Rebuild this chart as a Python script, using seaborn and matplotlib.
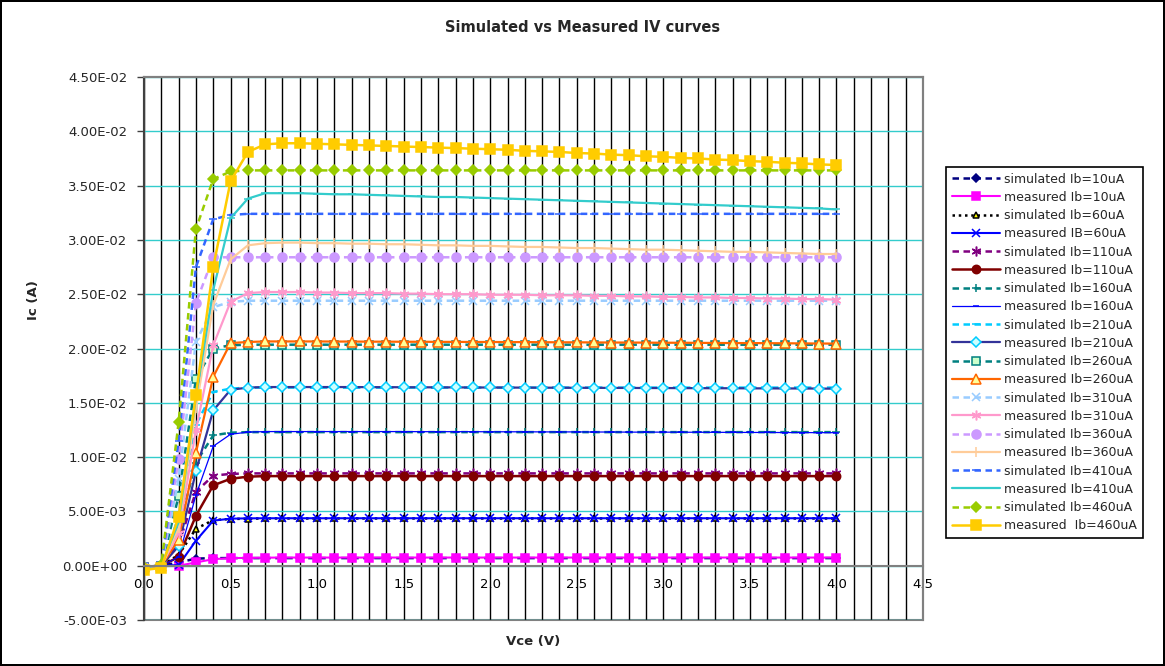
import numpy as np
import matplotlib
matplotlib.use("Agg")
import matplotlib.pyplot as plt
import seaborn as sns
from matplotlib.ticker import MultipleLocator, FuncFormatter

# ---------------- data (Ic in mA) ----------------
vce = [0.0, 0.1, 0.2, 0.3, 0.4, 0.5, 0.6, 0.7, 0.8, 0.9,
       1.0, 1.1, 1.2, 1.3, 1.4, 1.5, 1.6, 1.7, 1.8, 1.9,
       2.0, 2.1, 2.2, 2.3, 2.4, 2.5, 2.6, 2.7, 2.8, 2.9,
       3.0, 3.1, 3.2, 3.3, 3.4, 3.5, 3.6, 3.7, 3.8, 3.9, 4.0]

sim_10 = [-0.10, 0.00, 0.30, 0.65, 0.70, 0.70, 0.70, 0.70, 0.70, 0.70,
          0.70, 0.70, 0.70, 0.70, 0.70, 0.70, 0.70, 0.70, 0.70, 0.70,
          0.70, 0.70, 0.70, 0.70, 0.70, 0.70, 0.70, 0.70, 0.70, 0.70,
          0.70, 0.70, 0.70, 0.70, 0.70, 0.70, 0.70, 0.70, 0.70, 0.70, 0.70]
meas_10 = [-0.10, -0.05, 0.00, 0.30, 0.60, 0.70, 0.72, 0.74, 0.75, 0.75,
           0.75, 0.75, 0.75, 0.75, 0.75, 0.75, 0.75, 0.75, 0.75, 0.75,
           0.75, 0.75, 0.75, 0.75, 0.75, 0.75, 0.75, 0.75, 0.75, 0.75,
           0.75, 0.75, 0.75, 0.75, 0.75, 0.75, 0.75, 0.75, 0.75, 0.75, 0.75]
sim_60 = [-0.10, 0.00, 1.00, 3.40, 4.20, 4.30, 4.33, 4.35, 4.35, 4.35,
          4.35, 4.35, 4.35, 4.35, 4.35, 4.35, 4.35, 4.35, 4.35, 4.35,
          4.35, 4.35, 4.35, 4.35, 4.35, 4.35, 4.35, 4.35, 4.35, 4.35,
          4.35, 4.35, 4.35, 4.35, 4.35, 4.35, 4.35, 4.35, 4.35, 4.35, 4.35]
meas_60 = [-0.10, 0.00, 0.05, 2.30, 4.15, 4.33, 4.36, 4.37, 4.37, 4.37,
           4.37, 4.37, 4.37, 4.37, 4.37, 4.37, 4.37, 4.37, 4.37, 4.37,
           4.37, 4.37, 4.37, 4.37, 4.37, 4.37, 4.37, 4.37, 4.37, 4.37,
           4.37, 4.37, 4.37, 4.37, 4.37, 4.37, 4.37, 4.37, 4.37, 4.37, 4.37]
sim_110 = [-0.10, 0.00, 2.00, 6.80, 8.30, 8.45, 8.50, 8.50, 8.50, 8.50,
           8.50, 8.50, 8.50, 8.50, 8.50, 8.50, 8.50, 8.50, 8.50, 8.50,
           8.50, 8.50, 8.50, 8.50, 8.50, 8.50, 8.50, 8.50, 8.50, 8.50,
           8.50, 8.50, 8.50, 8.50, 8.50, 8.50, 8.50, 8.50, 8.50, 8.50, 8.50]
meas_110 = [-0.10, 0.00, 0.80, 4.60, 7.40, 8.00, 8.20, 8.25, 8.25, 8.25,
            8.25, 8.25, 8.25, 8.25, 8.25, 8.25, 8.25, 8.25, 8.25, 8.25,
            8.25, 8.25, 8.25, 8.25, 8.25, 8.25, 8.25, 8.25, 8.25, 8.25,
            8.25, 8.25, 8.25, 8.25, 8.25, 8.25, 8.25, 8.25, 8.25, 8.25, 8.25]
sim_160 = [-0.10, 0.00, 3.50, 9.50, 12.00, 12.25, 12.30, 12.30, 12.30, 12.30,
           12.30, 12.30, 12.30, 12.30, 12.30, 12.30, 12.30, 12.30, 12.30, 12.30,
           12.30, 12.30, 12.30, 12.30, 12.30, 12.30, 12.30, 12.30, 12.30, 12.30,
           12.30, 12.30, 12.30, 12.30, 12.30, 12.30, 12.30, 12.30, 12.30, 12.30, 12.30]
meas_160 = [-0.10, 0.00, 0.80, 6.50, 11.00, 12.10, 12.30, 12.35, 12.35, 12.35,
            12.35, 12.35, 12.35, 12.35, 12.35, 12.35, 12.34, 12.34, 12.34, 12.34,
            12.33, 12.33, 12.33, 12.32, 12.32, 12.32, 12.31, 12.31, 12.30, 12.30,
            12.30, 12.29, 12.29, 12.28, 12.28, 12.27, 12.27, 12.26, 12.26, 12.25, 12.25]
sim_210 = [-0.10, 0.00, 4.50, 13.00, 16.00, 16.30, 16.40, 16.40, 16.40, 16.40,
           16.40, 16.40, 16.40, 16.40, 16.40, 16.40, 16.40, 16.40, 16.40, 16.40,
           16.40, 16.40, 16.40, 16.40, 16.40, 16.40, 16.40, 16.40, 16.40, 16.40,
           16.40, 16.40, 16.40, 16.40, 16.40, 16.40, 16.40, 16.40, 16.40, 16.40, 16.40]
meas_210 = [-0.10, 0.00, 1.80, 8.70, 14.30, 16.20, 16.40, 16.45, 16.45, 16.45,
            16.45, 16.45, 16.45, 16.44, 16.44, 16.43, 16.43, 16.42, 16.42, 16.41,
            16.41, 16.40, 16.40, 16.39, 16.39, 16.38, 16.38, 16.37, 16.37, 16.36,
            16.36, 16.35, 16.35, 16.34, 16.34, 16.33, 16.33, 16.32, 16.32, 16.31, 16.30]
sim_260 = [-0.10, 0.00, 6.40, 17.20, 20.00, 20.30, 20.35, 20.35, 20.35, 20.35,
           20.35, 20.35, 20.35, 20.35, 20.35, 20.35, 20.35, 20.35, 20.35, 20.35,
           20.35, 20.35, 20.35, 20.35, 20.35, 20.35, 20.35, 20.35, 20.35, 20.35,
           20.35, 20.35, 20.35, 20.35, 20.35, 20.35, 20.35, 20.35, 20.35, 20.35, 20.35]
meas_260 = [-0.10, 0.00, 2.40, 10.40, 17.40, 20.50, 20.60, 20.65, 20.65, 20.65,
            20.65, 20.64, 20.64, 20.63, 20.63, 20.62, 20.62, 20.61, 20.61, 20.60,
            20.60, 20.59, 20.59, 20.58, 20.57, 20.57, 20.56, 20.55, 20.55, 20.54,
            20.53, 20.53, 20.52, 20.51, 20.50, 20.50, 20.49, 20.48, 20.47, 20.46, 20.45]
sim_310 = [-0.10, 0.00, 8.00, 20.60, 23.80, 24.30, 24.40, 24.40, 24.40, 24.40,
           24.40, 24.40, 24.40, 24.40, 24.40, 24.40, 24.40, 24.40, 24.40, 24.40,
           24.40, 24.40, 24.40, 24.40, 24.40, 24.40, 24.40, 24.40, 24.40, 24.40,
           24.40, 24.40, 24.40, 24.40, 24.40, 24.40, 24.40, 24.40, 24.40, 24.40, 24.40]
meas_310 = [-0.10, 0.00, 3.00, 12.50, 20.30, 24.30, 25.10, 25.20, 25.20, 25.20,
            25.15, 25.15, 25.10, 25.10, 25.10, 25.05, 25.05, 25.00, 25.00, 25.00,
            24.95, 24.95, 24.95, 24.90, 24.90, 24.90, 24.85, 24.85, 24.80, 24.80,
            24.75, 24.75, 24.70, 24.70, 24.65, 24.65, 24.60, 24.60, 24.55, 24.55, 24.50]
sim_360 = [-0.10, 0.00, 9.80, 24.20, 28.40, 28.40, 28.40, 28.40, 28.40, 28.40,
           28.40, 28.40, 28.40, 28.40, 28.40, 28.40, 28.40, 28.40, 28.40, 28.40,
           28.40, 28.40, 28.40, 28.40, 28.40, 28.40, 28.40, 28.40, 28.40, 28.40,
           28.40, 28.40, 28.40, 28.40, 28.40, 28.40, 28.40, 28.40, 28.40, 28.40, 28.40]
meas_360 = [-0.10, 0.00, 3.50, 14.50, 24.00, 28.20, 29.50, 29.70, 29.75, 29.75,
            29.70, 29.70, 29.65, 29.65, 29.60, 29.60, 29.55, 29.50, 29.50, 29.45,
            29.45, 29.40, 29.35, 29.35, 29.30, 29.25, 29.25, 29.20, 29.15, 29.10,
            29.10, 29.05, 29.00, 28.95, 28.90, 28.90, 28.85, 28.80, 28.75, 28.70, 28.70]
sim_410 = [-0.10, 0.00, 11.50, 27.50, 31.90, 32.30, 32.40, 32.40, 32.40, 32.40,
           32.40, 32.40, 32.40, 32.40, 32.40, 32.40, 32.40, 32.40, 32.40, 32.40,
           32.40, 32.40, 32.40, 32.40, 32.40, 32.40, 32.40, 32.40, 32.40, 32.40,
           32.40, 32.40, 32.40, 32.40, 32.40, 32.40, 32.40, 32.40, 32.40, 32.40, 32.40]
meas_410 = [-0.10, 0.00, 4.00, 15.50, 25.40, 32.00, 33.80, 34.30, 34.30, 34.30,
            34.25, 34.20, 34.20, 34.15, 34.10, 34.05, 34.00, 33.95, 33.95, 33.90,
            33.85, 33.80, 33.75, 33.70, 33.65, 33.60, 33.55, 33.50, 33.45, 33.40,
            33.35, 33.30, 33.25, 33.20, 33.15, 33.10, 33.05, 33.00, 32.95, 32.90, 32.80]
sim_460 = [-0.10, 0.10, 13.20, 31.00, 35.60, 36.30, 36.40, 36.40, 36.40, 36.40,
           36.40, 36.40, 36.40, 36.40, 36.40, 36.40, 36.40, 36.40, 36.40, 36.40,
           36.40, 36.40, 36.40, 36.40, 36.40, 36.40, 36.40, 36.40, 36.40, 36.40,
           36.40, 36.40, 36.40, 36.40, 36.40, 36.40, 36.40, 36.40, 36.40, 36.40, 36.40]
meas_460 = [-0.40, -0.20, 4.50, 15.70, 27.50, 35.40, 38.10, 38.80, 38.90, 38.90,
            38.85, 38.80, 38.75, 38.70, 38.65, 38.60, 38.55, 38.50, 38.45, 38.40,
            38.35, 38.30, 38.20, 38.15, 38.10, 38.00, 37.95, 37.85, 37.80, 37.70,
            37.65, 37.55, 37.50, 37.40, 37.35, 37.25, 37.20, 37.10, 37.05, 36.95, 36.90]

labels = ["simulated Ib=10uA", "measured Ib=10uA",
          "simulated Ib=60uA", "measured IB=60uA",
          "simulated Ib=110uA", "measured Ib=110uA",
          "simulated Ib=160uA", "measured Ib=160uA",
          "simulated Ib=210uA", "measured Ib=210uA",
          "simulated Ib=260uA", "measured Ib=260uA",
          "simulated Ib=310uA", "measured Ib=310uA",
          "simulated Ib=360uA", "measured Ib=360uA",
          "simulated Ib=410uA", "measured Ib=410uA",
          "simulated Ib=460uA", "measured  Ib=460uA"]
values = [sim_10, meas_10, sim_60, meas_60, sim_110, meas_110, sim_160, meas_160,
          sim_210, meas_210, sim_260, meas_260, sim_310, meas_310, sim_360, meas_360,
          sim_410, meas_410, sim_460, meas_460]

# ---------------- styles ----------------
DASH = (0, (2.6, 1.8))
AST = (6, 2, 0)
styles = [
    dict(color="#000080", ls=DASH, lw=1.8, marker="D", ms=4.5, mfc="#000080", mec="#000080"),
    dict(color="#FF00FF", ls="-", lw=1.5, marker="s", ms=5.5, mfc="#FF00FF", mec="#FF00FF"),
    dict(color="#000000", ls=(0, (1, 1.5)), lw=1.8, marker="^", ms=5, mfc="#FFFF00", mec="#000000"),
    dict(color="#0000FF", ls="-", lw=1.5, marker="x", ms=5.5, mfc="#0000FF", mec="#0000FF"),
    dict(color="#800080", ls=DASH, lw=1.8, marker=AST, ms=7, mfc="#800080", mec="#800080"),
    dict(color="#800000", ls="-", lw=1.8, marker="o", ms=6, mfc="#800000", mec="#800000"),
    dict(color="#008080", ls=DASH, lw=1.8, marker="+", ms=6, mfc="#008080", mec="#008080"),
    dict(color="#0000FF", ls="-", lw=0.9, marker="_", ms=4.5, mfc="#0000FF", mec="#0000FF"),
    dict(color="#00CCFF", ls=DASH, lw=1.8, marker="_", ms=5.5, mfc="#00CCFF", mec="#00CCFF"),
    dict(color="#333399", ls="-", lw=1.6, marker="D", ms=5, mfc="#CCFFFF", mec="#00CCFF"),
    dict(color="#008080", ls=DASH, lw=1.8, marker="s", ms=6, mfc="#CCFFCC", mec="#008080"),
    dict(color="#FF6600", ls="-", lw=1.6, marker="^", ms=6.5, mfc="#FFFF99", mec="#FF6600"),
    dict(color="#99CCFF", ls=DASH, lw=1.8, marker="x", ms=5.5, mfc="#99CCFF", mec="#99CCFF"),
    dict(color="#FF99CC", ls="-", lw=1.6, marker=AST, ms=7, mfc="#FF99CC", mec="#FF99CC"),
    dict(color="#CC99FF", ls=DASH, lw=1.8, marker="o", ms=6.5, mfc="#CC99FF", mec="#CC99FF"),
    dict(color="#FFCC99", ls="-", lw=1.6, marker="|", ms=7, mfc="#FFCC99", mec="#FFCC99"),
    dict(color="#3366FF", ls=DASH, lw=1.8, marker="_", ms=5.5, mfc="#3366FF", mec="#3366FF"),
    dict(color="#33CCCC", ls="-", lw=1.6, marker="_", ms=5.5, mfc="#33CCCC", mec="#33CCCC"),
    dict(color="#99CC00", ls=DASH, lw=1.8, marker="D", ms=5.5, mfc="#99CC00", mec="#99CC00"),
    dict(color="#FFCC00", ls="-", lw=1.8, marker="s", ms=6.5, mfc="#FFCC00", mec="#FFCC00"),
]

sns.set_style("white")
plt.rcParams["font.family"] = ["DejaVu Sans"]

fig = plt.figure(figsize=(11.65, 6.66), dpi=100)
fig.patch.set_edgecolor("black")
fig.patch.set_linewidth(1.5)
ax = fig.add_axes([144 / 1165, 1 - 620 / 666, (923 - 144) / 1165, (620 - 77) / 666])

for lab, vals, st in zip(labels, values, styles):
    assert len(vals) == len(vce)
    sns.lineplot(x=vce, y=np.array(vals) * 1e-3, ax=ax, label=lab,
                 color=st["color"], linestyle=st["ls"], linewidth=st["lw"],
                 marker=st["marker"], markersize=st["ms"],
                 markerfacecolor=st["mfc"], markeredgecolor=st["mec"],
                 markeredgewidth=1.1, errorbar=None, sort=False)

ax.set_xlim(0, 4.5)
ax.set_ylim(-0.005, 0.045)
ax.xaxis.set_major_locator(MultipleLocator(0.5))
ax.xaxis.set_minor_locator(MultipleLocator(0.1))
ax.yaxis.set_major_locator(MultipleLocator(0.005))
ax.xaxis.set_major_formatter(FuncFormatter(lambda v, p: f"{v:.1f}"))
ax.yaxis.set_major_formatter(FuncFormatter(lambda v, p: f"{v:.2E}"))

ax.grid(False)
ax.grid(True, which="both", axis="x", color="#000000", linewidth=1.0)
ax.grid(True, which="major", axis="y", color="#33CCCC", linewidth=1.0)
ax.set_axisbelow(True)

ax.patch.set_edgecolor("#808080")
ax.patch.set_linewidth(1.5)
for s in ("top", "right"):
    ax.spines[s].set_visible(True)
    ax.spines[s].set_color("#808080")
    ax.spines[s].set_linewidth(1.5)
ax.spines["left"].set_color("#404040")
ax.spines["left"].set_linewidth(1.5)
ax.spines["bottom"].set_position(("data", 0))
ax.spines["bottom"].set_color("#808080")
ax.spines["bottom"].set_linewidth(1.5)

ax.tick_params(axis="x", which="both", length=0, pad=9, labelsize=9.5, colors="#000000")
ax.tick_params(axis="y", which="major", direction="out", length=5, width=1,
               color="#404040", pad=7, labelsize=9.5, left=True)

ax.set_xlabel("Vce (V)", fontsize=9.5, fontweight="bold")
ax.xaxis.set_label_coords(0.5, -0.027)
ax.set_ylabel("Ic (A)", fontsize=9.5, fontweight="bold")
ax.yaxis.set_label_coords(-0.133, 0.589)

fig.suptitle("Simulated vs Measured IV curves", x=0.5, y=1 - 28 / 666, va="center",
             fontsize=10.5, fontweight="bold")

handles, labs = ax.get_legend_handles_labels()
leg = ax.legend(handles, labs, loc="upper left",
                bbox_to_anchor=(946 / 1165, 1 - 167 / 666), bbox_transform=fig.transFigure,
                borderaxespad=0, frameon=True, fancybox=False, shadow=False,
                fontsize=9, handlelength=3.9, handletextpad=0.3, labelspacing=0.42,
                borderpad=0.45, framealpha=1)
leg.get_frame().set_edgecolor("#000000")
leg.get_frame().set_linewidth(1.2)

fig.savefig("out.png", dpi=100, facecolor="white", edgecolor=fig.patch.get_edgecolor())
